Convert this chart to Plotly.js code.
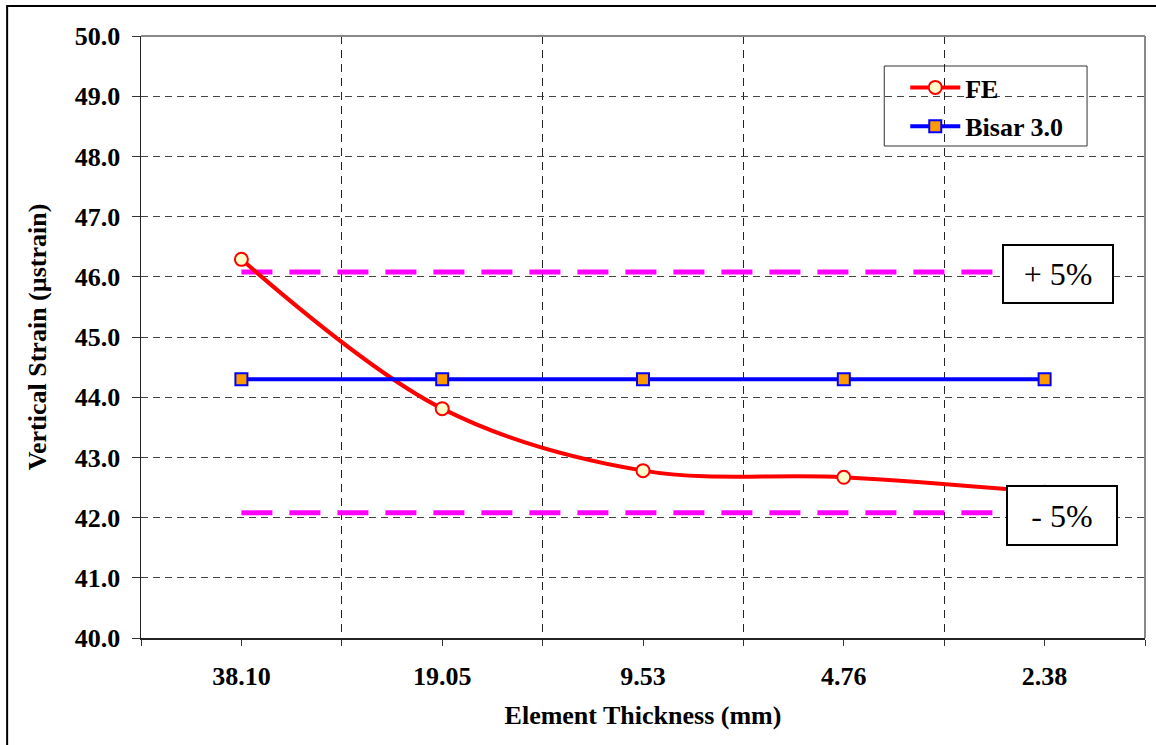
<!DOCTYPE html>
<html>
<head>
<meta charset="utf-8">
<script src="https://cdn.plot.ly/plotly-3.0.1.min.js"></script>
<style>
html,body{margin:0;padding:0;background:#fff;}
#chart{width:1156px;height:745px;}
</style>
</head>
<body>
<div id="chart"></div>
<script>
// ---- data ----
const categories = ["38.10", "19.05", "9.53", "4.76", "2.38"];
const feValues = [46.29, 43.81, 42.78, 42.67, 42.42];
const bisarValues = [44.3, 44.3, 44.3, 44.3, 44.3];
const plus5Values = [46.08, 46.08, 46.08, 46.08, 46.08];
const minus5Values = [42.08, 42.08, 42.08, 42.08, 42.08];
const seriesNames = ["FE", "Bisar 3.0"];
const bandLabels = ["+ 5%", "- 5%"];

const xIdx = categories.map((c, i) => i);
const boundaries = [];
for (let i = 0; i <= categories.length; i++) boundaries.push(i - 0.5);

const FONT = '"Liberation Serif", "Times New Roman", serif';
const PW = 1005, PH = 602; // plot area in px (for paper-referenced decorations)

const traces = [
  {x: xIdx, y: plus5Values, mode: "lines", showlegend: false, hoverinfo: "skip",
   line: {color: "#FF00FF", width: 5, dash: "31px,17px"}},
  {x: xIdx, y: minus5Values, mode: "lines", showlegend: false, hoverinfo: "skip",
   line: {color: "#FF00FF", width: 5, dash: "31px,17px"}},
  {x: xIdx, y: feValues, name: seriesNames[0], mode: "lines+markers", legendgroup: "a",
   line: {color: "#FF0000", width: 4, shape: "spline", smoothing: 1},
   marker: {symbol: "circle", size: 13, color: "#FFFFCC", line: {color: "#FF0000", width: 2}}},
  {x: xIdx, y: bisarValues, name: seriesNames[1], mode: "lines+markers", legendgroup: "b",
   line: {color: "#0000FF", width: 4},
   marker: {symbol: "square", size: 12, color: "#FF9900", line: {color: "#0000FF", width: 2}}}
];

const layout = {
  width: 1156, height: 745,
  margin: {l: 141, r: 11, t: 36, b: 107, pad: 0},
  paper_bgcolor: "#FFFFFF",
  plot_bgcolor: "#FFFFFF",
  font: {family: FONT, color: "#000"},
  showlegend: true,
  legend: {
    x: (906 - 141) / PW, y: (638 - 64) / PH, xanchor: "left", yanchor: "top",
    bgcolor: "rgba(0,0,0,0)", borderwidth: 0,
    font: {family: FONT, size: 26, color: "#000", weight: "bold"},
    itemwidth: 50, tracegroupgap: 2, traceorder: "grouped"
  },
  xaxis: {
    type: "linear", range: [-0.5, categories.length - 0.5],
    tickmode: "array", tickvals: xIdx, ticktext: categories,
    ticks: "outside", ticklen: 6, tickcolor: "#333", tickwidth: 1,
    ticklabelstandoff: 8,
    tickfont: {family: FONT, size: 26, weight: "bold"},
    showgrid: false, zeroline: false,
    showline: true, linecolor: "#222", linewidth: 1.5,
    minor: {tickmode: "array", tickvals: boundaries, ticks: "outside", ticklen: 6,
            tickcolor: "#333", showgrid: true, gridcolor: "#222", griddash: "8px,6px", gridwidth: 1},
    title: {text: "Element Thickness (mm)", standoff: 16,
            font: {family: FONT, size: 26, weight: "bold"}}
  },
  yaxis: {
    range: [40, 50], dtick: 1, tick0: 40, tickformat: ".1f",
    ticks: "outside", ticklen: 8, tickcolor: "#333", tickwidth: 1,
    ticklabelstandoff: 6,
    tickfont: {family: FONT, size: 26, weight: "bold"},
    showgrid: true, gridcolor: "#444", griddash: "7px,5px", gridwidth: 1,
    zeroline: false, showline: true, linecolor: "#222", linewidth: 1.5,
    title: {text: "Vertical Strain (µstrain)", standoff: 20,
            font: {family: FONT, size: 26, weight: "bold"}}
  },
  shapes: [
    {type: "line", xref: "paper", yref: "paper", x0: 0, x1: 1, y0: 1, y1: 1,
     line: {color: "#888", width: 2}},
    {type: "line", xref: "paper", yref: "paper", x0: 1, x1: 1, y0: 0, y1: 1,
     line: {color: "#888", width: 2}},
    // legend frame
    {type: "rect", xref: "paper", yref: "paper",
     x0: (885 - 141) / PW, x1: (1088 - 141) / PW, y0: (638 - 146) / PH, y1: (638 - 66) / PH,
     line: {color: "#333", width: 1}, fillcolor: "#FFFFFF", layer: "below"},
    // outer chart border (only top/left visible)
    {type: "rect", xref: "paper", yref: "paper",
     x0: -134 / PW, x1: 1.3, y0: -1.3, y1: 1 + 30 / PH,
     line: {color: "#000", width: 2}, fillcolor: "rgba(0,0,0,0)", layer: "above"}
  ],
  annotations: [
    {xref: "x", yref: "y", x: 4.067, y: 46.04, text: bandLabels[0], showarrow: false,
     font: {family: FONT, size: 32, color: "#000"}, bgcolor: "#FFFFFF",
     bordercolor: "#000", borderwidth: 2, borderpad: 0, width: 108, height: 56},
    {xref: "x", yref: "y", x: 4.087, y: 42.03, text: bandLabels[1], showarrow: false,
     font: {family: FONT, size: 32, color: "#000"}, bgcolor: "#FFFFFF",
     bordercolor: "#000", borderwidth: 2, borderpad: 0, width: 108, height: 57}
  ]
};

Plotly.newPlot("chart", traces, layout, {displayModeBar: false, staticPlot: true});
</script>
</body>
</html>
